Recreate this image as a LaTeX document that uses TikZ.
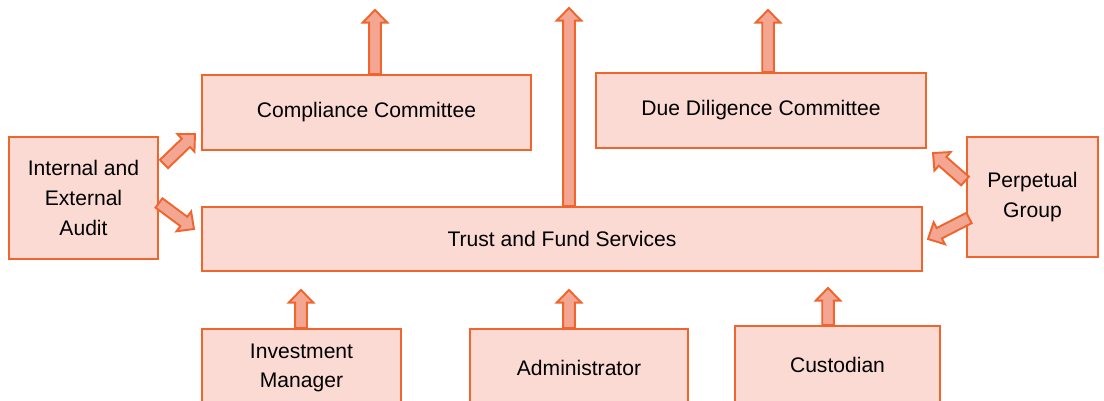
\documentclass[tikz,border=0pt]{standalone}
\usepackage{fontspec}
\setmainfont{Liberation Sans}
\usetikzlibrary{calc}
\definecolor{edge}{HTML}{F0642D}
\definecolor{boxfill}{HTML}{FBDAD3}
\definecolor{arrowfill}{HTML}{F3A793}

% sizes of the block arrows
\newcommand{\shaft}{3.3pt}
\newcommand{\headw}{7.0pt}
\newcommand{\headl}{7.2pt}

% block arrow from #1 (tail) to #2 (tip)
\newcommand{\blockarrow}[2]{%
  \path let \p1=($(#2)-(#1)$) in \pgfextra{%
    \pgfmathparse{atan2(\y1,\x1)}\xdef\baang{\pgfmathresult}%
    \pgfmathparse{veclen(\x1,\y1)}\xdef\balen{\pgfmathresult}};
  \filldraw[barrow, shift={(#1)}, rotate=\baang]
    (0pt,-\shaft) -- ({\balen pt-\headl},-\shaft) -- ({\balen pt-\headl},-\headw)
    -- (\balen pt,0pt) -- ({\balen pt-\headl},\headw)
    -- ({\balen pt-\headl},\shaft) -- (0pt,\shaft) -- cycle;}

\begin{document}
\begin{tikzpicture}[
    x=0.02cm, y=-0.02cm,
    every node/.style={font=\fontsize{12}{17}\selectfont},
    unit/.style={rectangle, draw=edge, fill=boxfill, line width=1.1pt,
                 align=center, inner sep=0pt},
    barrow/.style={draw=edge, fill=arrowfill, line width=1.1pt, line join=miter}
  ]
    \useasboundingbox (0,0) rectangle (1104,401);
    \clip (0,0) rectangle (1104,401);

    % committees and the central unit
    \node[unit, minimum width=6.58cm, minimum height=1.5cm] (comp) at (366.5,112.5) {Compliance Committee};
    \node[unit, minimum width=6.6cm, minimum height=1.5cm] (dd) at (761,110.5) {Due Diligence Committee};
    \node[unit, minimum width=2.98cm, minimum height=2.44cm] (audit) at (83.5,198) {Internal and\\External\\Audit};
    \node[unit, minimum width=2.62cm, minimum height=2.4cm] (perp) at (1032.5,197) {Perpetual\\Group};
    \node[unit, minimum width=14.4cm, minimum height=1.28cm] (trust) at (562,239) {Trust and Fund Services};

    % service providers along the bottom
    \node[unit, minimum width=3.98cm, minimum height=1.56cm] (im) at (301.5,368) {Investment\\Manager};
    \node[unit, minimum width=4.36cm, minimum height=1.56cm] (adm) at (579,368) {Administrator};
    \node[unit, minimum width=4.1cm, minimum height=1.56cm] (cust) at (837.5,365) {Custodian};

    % arrow ends
    \coordinate (compTop) at (375,10);
    \coordinate (trustTop) at (569,8);
    \coordinate (ddTop) at (768,10);
    \coordinate (imTip) at (301,290);
    \coordinate (admTip) at (569,290);
    \coordinate (custTip) at (828,288);
    \coordinate (auditA) at (164,164);
    \coordinate (compIn) at (195,134);
    \coordinate (auditB) at (159,203);
    \coordinate (trustInL) at (194,229);
    \coordinate (perpA) at (965,181);
    \coordinate (ddIn) at (933,153);
    \coordinate (perpB) at (969,218);
    \coordinate (trustInR) at (928,239);

    \blockarrow{comp.north -| compTop}{compTop}
    \blockarrow{trust.north -| trustTop}{trustTop}
    \blockarrow{dd.north -| ddTop}{ddTop}
    \blockarrow{im.north -| imTip}{imTip}
    \blockarrow{adm.north -| admTip}{admTip}
    \blockarrow{cust.north -| custTip}{custTip}
    \blockarrow{auditA}{compIn}
    \blockarrow{auditB}{trustInL}
    \blockarrow{perpA}{ddIn}
    \blockarrow{perpB}{trustInR}
\end{tikzpicture}
\end{document}
